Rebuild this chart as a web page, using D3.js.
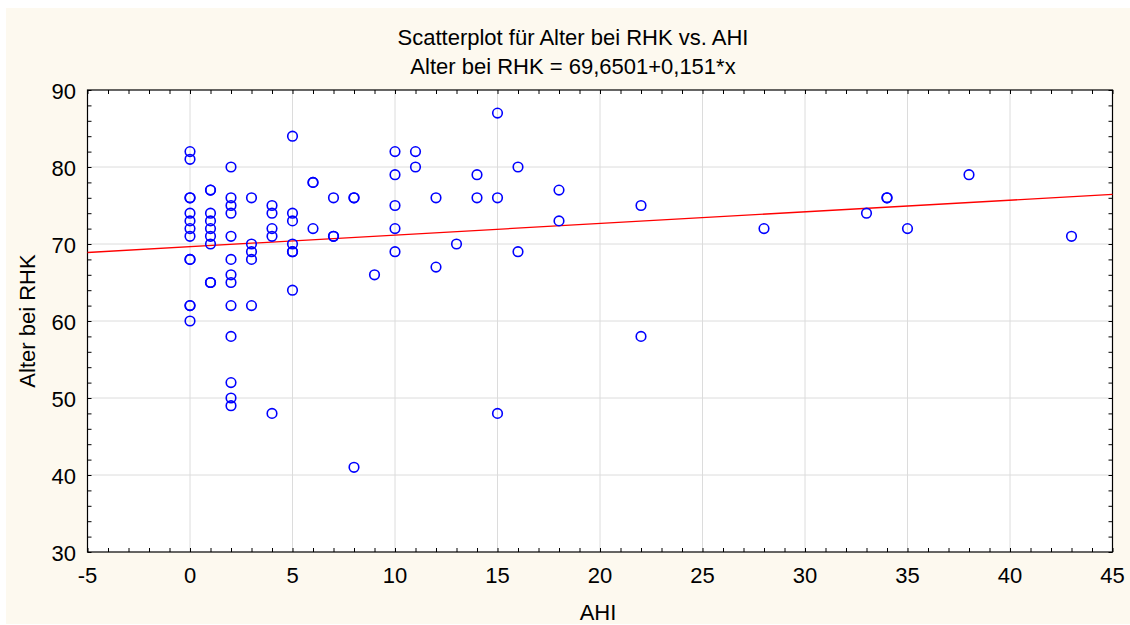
<!DOCTYPE html>
<html>
<head>
<meta charset="utf-8">
<script src="https://cdn.jsdelivr.net/npm/d3@7"></script>
<style>
  body { margin: 0; background: #fff; }
  text { font-family: "Liberation Sans", Arial, sans-serif; fill: #000; }
</style>
</head>
<body>
<script>
var width = 1130,
    height = 625;

// AHI (x) and Alter bei RHK (y)
var ahi = [
  0, 0, 0, 0, 0, 0, 0, 0, 0, 0, 0, 0, 0,
  1, 1, 1, 1, 1, 1, 1, 1, 1,
  2, 2, 2, 2, 2, 2, 2, 2, 2, 2, 2, 2, 2,
  3, 3, 3, 3, 3,
  4, 4, 4, 4, 4,
  5, 5, 5, 5, 5, 5, 5,
  6, 6, 6,
  7, 7, 7,
  8, 8, 8,
  9,
  10, 10, 10, 10, 10,
  11, 11,
  12, 12,
  13,
  14, 14,
  15, 15, 15,
  16, 16,
  18, 18,
  22, 22,
  28,
  33,
  34, 34,
  35,
  38,
  43
];
var alter = [
  82, 81, 76, 76, 74, 73, 72, 71, 68, 68, 62, 62, 60,
  77, 77, 74, 73, 72, 71, 70, 65, 65,
  80, 76, 75, 74, 71, 68, 66, 65, 62, 58, 52, 50, 49,
  76, 70, 69, 68, 62,
  75, 74, 72, 71, 48,
  84, 74, 73, 70, 69, 69, 64,
  78, 78, 72,
  76, 71, 71,
  76, 76, 41,
  66,
  82, 79, 75, 72, 69,
  82, 80,
  76, 67,
  70,
  79, 76,
  87, 76, 48,
  80, 69,
  77, 73,
  75, 58,
  72,
  74,
  76, 76,
  72,
  79,
  71
];

var xTicks = [-5, 0, 5, 10, 15, 20, 25, 30, 35, 40, 45];
var yTicks = [30, 40, 50, 60, 70, 80, 90];

var intercept = 69.6501,
    slope = 0.151;

var margin = {left: 87.5, right: 1112.5, top: 90, bottom: 552};

var x = d3.scaleLinear().domain([-5, 45]).range([margin.left, margin.right]);
var y = d3.scaleLinear().domain([30, 90]).range([margin.bottom, margin.top]);

var svg = d3.select("body").append("svg")
    .attr("width", width)
    .attr("height", height);

// cream background panel
svg.append("rect")
    .attr("x", 6).attr("y", 8)
    .attr("width", width - 6).attr("height", 616)
    .attr("fill", "#fdf9ef");

// plot area
svg.append("rect")
    .attr("x", margin.left).attr("y", margin.top)
    .attr("width", margin.right - margin.left)
    .attr("height", margin.bottom - margin.top)
    .attr("fill", "#fff");

// grid
var grid = svg.append("g").attr("stroke", "#dcdcdc").attr("stroke-width", 1);
grid.selectAll(".gx")
    .data(xTicks.slice(1, -1))
    .enter().append("line")
    .attr("x1", function(d) { return x(d); })
    .attr("x2", function(d) { return x(d); })
    .attr("y1", margin.top).attr("y2", margin.bottom);
grid.selectAll(".gy")
    .data(yTicks.slice(1, -1))
    .enter().append("line")
    .attr("y1", function(d) { return y(d); })
    .attr("y2", function(d) { return y(d); })
    .attr("x1", margin.left).attr("x2", margin.right);

// axes: inner minor ticks on all four sides, labels on left and bottom
var ih = margin.bottom - margin.top,
    iw = margin.right - margin.left;

svg.append("g")
    .attr("transform", "translate(0," + margin.bottom + ")")
    .call(d3.axisTop(x).ticks(50).tickSize(4).tickFormat(""));
svg.append("g")
    .attr("transform", "translate(0," + margin.top + ")")
    .call(d3.axisBottom(x).ticks(50).tickSize(4).tickFormat(""));
svg.append("g")
    .attr("transform", "translate(" + margin.left + ",0)")
    .call(d3.axisRight(y).ticks(30).tickSize(4).tickFormat(""));
svg.append("g")
    .attr("transform", "translate(" + margin.right + ",0)")
    .call(d3.axisLeft(y).ticks(30).tickSize(4).tickFormat(""));

svg.selectAll(".domain").remove();
svg.selectAll(".tick line").attr("stroke", "#000");

// frame
svg.append("rect")
    .attr("x", margin.left).attr("y", margin.top)
    .attr("width", iw).attr("height", ih)
    .attr("fill", "none")
    .attr("stroke", "#000")
    .attr("stroke-width", 1.2);

// tick labels
svg.selectAll(".xl")
    .data(xTicks)
    .enter().append("text")
    .attr("x", function(d) { return x(d); })
    .attr("y", 583)
    .attr("text-anchor", "middle")
    .style("font-size", "22px")
    .text(function(d) { return d; });

svg.selectAll(".yl")
    .data(yTicks)
    .enter().append("text")
    .attr("x", 76)
    .attr("y", function(d) { return y(d) + 8.5; })
    .attr("text-anchor", "end")
    .style("font-size", "22px")
    .text(function(d) { return d; });

// regression line
svg.append("line")
    .attr("x1", x(-5)).attr("y1", y(intercept + slope * -5))
    .attr("x2", x(45)).attr("y2", y(intercept + slope * 45))
    .attr("stroke", "#ff0000")
    .attr("stroke-width", 1.3);

// points
svg.append("g").selectAll("circle")
    .data(d3.range(ahi.length))
    .enter().append("circle")
    .attr("cx", function(i) { return x(ahi[i]); })
    .attr("cy", function(i) { return y(alter[i]); })
    .attr("r", 4.8)
    .attr("fill", "none")
    .attr("stroke", "#0000ff")
    .attr("stroke-width", 1.6);

// titles
svg.append("text")
    .attr("x", 573).attr("y", 45)
    .attr("text-anchor", "middle")
    .style("font-size", "22px")
    .text("Scatterplot für Alter bei RHK vs. AHI");
svg.append("text")
    .attr("x", 573).attr("y", 74)
    .attr("text-anchor", "middle")
    .style("font-size", "22px")
    .text("Alter bei RHK = 69,6501+0,151*x");

svg.append("text")
    .attr("x", 598).attr("y", 620)
    .attr("text-anchor", "middle")
    .style("font-size", "22px")
    .text("AHI");

svg.append("text")
    .attr("transform", "translate(35,321) rotate(-90)")
    .attr("text-anchor", "middle")
    .style("font-size", "22px")
    .text("Alter bei RHK");
</script>
</body>
</html>
